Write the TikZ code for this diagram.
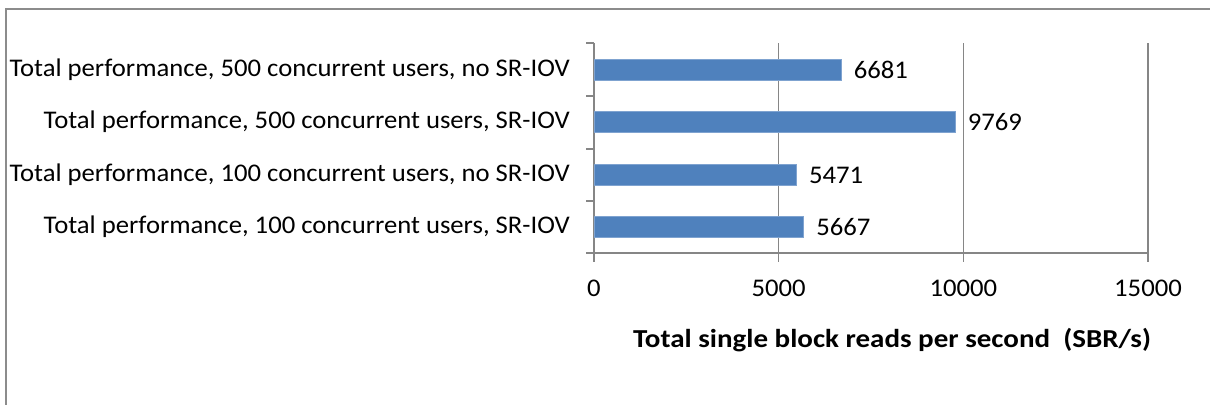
\documentclass[tikz,border=0pt]{standalone}
\usepackage{fontspec}
\setmainfont[FakeStretch=1.05]{Carlito}
\newfontfamily\titlefont[FakeStretch=1.12]{Carlito}
\definecolor{barblue}{HTML}{4F81BD}
\definecolor{baredge}{HTML}{7FA3D0}
\definecolor{gridgray}{HTML}{868686}
\definecolor{framegray}{HTML}{8C8C8C}
\begin{document}
\begin{tikzpicture}[x=1bp,y=-1bp,
  catlabel/.style={anchor=east,inner sep=0pt,font=\fontsize{25.5}{27}\selectfont},
  vallabel/.style={anchor=west,inner sep=0pt,font=\fontsize{25.5}{27}\selectfont},
  ticklabel/.style={anchor=center,inner sep=0pt,font=\fontsize{25.5}{27}\selectfont},
  barbox/.style={anchor=west,fill=barblue,draw=baredge,line width=0.8bp,minimum height=21bp,inner sep=0pt},
  grid/.style={draw=gridgray,line width=1.2bp},
  axisline/.style={draw=gridgray,line width=1.4bp},
]
\useasboundingbox (0,0) rectangle (1210,404);
\fill[white] (0,0) rectangle (1210,404);
% frame
\draw[framegray,line width=2.2bp] (6,420) -- (6,9) -- (1220,9);
% gridlines
\foreach \v/\n in {5000/g1,10000/g2,15000/g3}{
  \coordinate (\n t) at ({594+\v/15000*554},43);
  \coordinate (\n b) at ({594+\v/15000*554},262);
  \draw[grid] (\n t) -- (\n b);
}
% axes
\coordinate (o) at (594,253);
\coordinate (ytop) at (594,43);
\coordinate (xend) at (1148,253);
\draw[axisline] (ytop) -- (o) -- (xend);
\draw[axisline] (594,253) -- (594,262);
\foreach \y in {43,96,149,201,253}{
  \draw[axisline] (586,\y) -- (594,\y);
}
% tick labels
\foreach \v in {0,5000,10000,15000}{
  \node[ticklabel] (t\v) at ({594+\v/15000*554},288) {\v};
}
% bars
\foreach \v/\y/\n in {6681/70/b1,9769/122/b2,5471/175/b3,5667/227/b4}{
  \node[barbox,minimum width={\v/15000*554*1bp}] (\n) at (594,\y) {};
  \node[vallabel] (\n v) at ([xshift=12bp]\n.east) {\v};
}
% category labels
\node[catlabel] (c1) at (570,70) {Total performance, 500 concurrent users, no SR-IOV};
\node[catlabel] (c2) at (570,122) {Total performance, 500 concurrent users, SR-IOV};
\node[catlabel] (c3) at (570,175) {Total performance, 100 concurrent users, no SR-IOV};
\node[catlabel] (c4) at (570,227) {Total performance, 100 concurrent users, SR-IOV};
% axis title
\node[inner sep=0pt,font=\titlefont\bfseries\fontsize{26}{28}\selectfont] (title) at (892,340) {Total single block reads per second\ \ (SBR/s)};
\end{tikzpicture}
\end{document}
